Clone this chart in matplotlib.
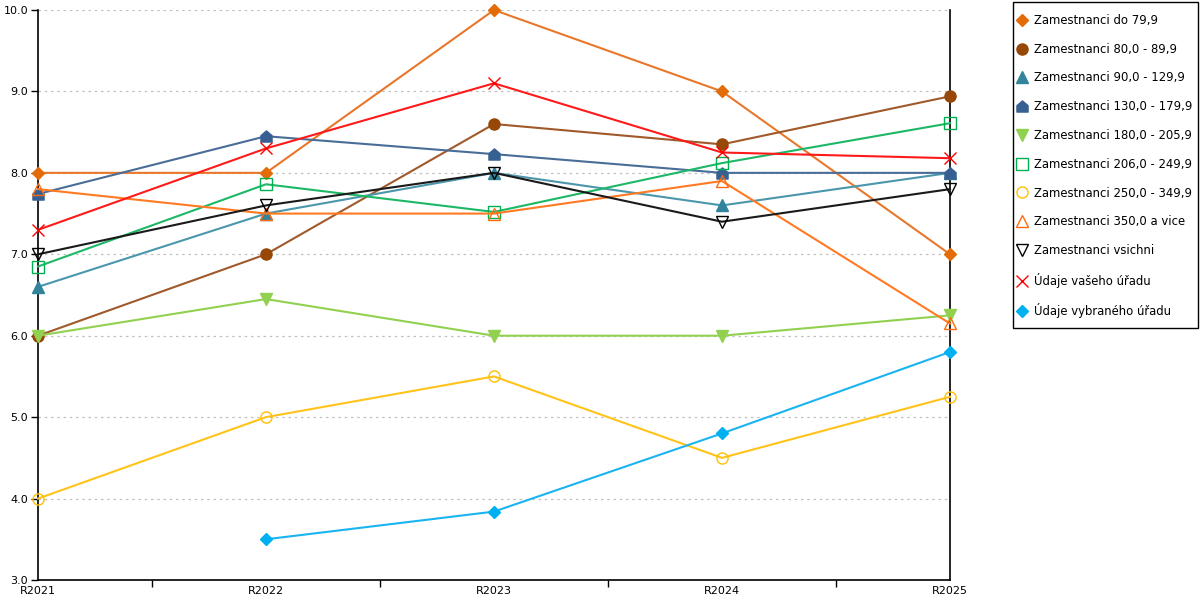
import matplotlib
matplotlib.use('Agg')
import matplotlib.pyplot as plt
from matplotlib.path import Path
from matplotlib.patches import Rectangle
import numpy as np

# data
years = ['R2021', 'R2022', 'R2023', 'R2024', 'R2025']
labels = ['Zamestnanci do 79,9', 'Zamestnanci 80,0 - 89,9', 'Zamestnanci 90,0 - 129,9',
          'Zamestnanci 130,0 - 179,9', 'Zamestnanci 180,0 - 205,9', 'Zamestnanci 206,0 - 249,9',
          'Zamestnanci 250,0 - 349,9', 'Zamestnanci 350,0 a vice', 'Zamestnanci vsichni',
          'Údaje vašeho úřadu', 'Údaje vybraného úřadu']
do_79 = [8.0, 8.0, 10.0, 9.0, 7.0]
z_80_89 = [6.0, 7.0, 8.6, 8.35, 8.94]
z_90_129 = [6.6, 7.5, 8.0, 7.6, 8.0]
z_130_179 = [7.74, 8.45, 8.23, 8.0, 8.0]
z_180_205 = [6.0, 6.45, 6.0, 6.0, 6.25]
z_206_249 = [6.85, 7.86, 7.52, 8.12, 8.61]
z_250_349 = [4.0, 5.0, 5.5, 4.5, 5.25]
z_350 = [7.8, 7.5, 7.5, 7.9, 6.15]
vsichni = [7.0, 7.6, 8.0, 7.4, 7.8]
vaseho = [7.3, 8.3, 9.1, 8.25, 8.18]
vybraneho = [np.nan, 3.5, 3.84, 4.8, 5.8]

series = [do_79, z_80_89, z_90_129, z_130_179, z_180_205, z_206_249,
          z_250_349, z_350, vsichni, vaseho, vybraneho]

house = Path([(-1, -1), (1, -1), (1, 0.15), (0, 1), (-1, 0.15), (-1, -1)],
             [Path.MOVETO, Path.LINETO, Path.LINETO, Path.LINETO, Path.LINETO, Path.CLOSEPOLY])

# (line colour, marker, marker face, marker edge, size)
styles = [
    ('#E8772A', 'D', '#E36C09', '#E36C09', 6),
    ('#A0592A', 'o', '#974706', '#974706', 8),
    ('#4A97AC', '^', '#31849B', '#31849B', 8),
    ('#4A6D98', house, '#376092', '#376092', 8),
    ('#92D050', 'v', '#92D050', '#92D050', 8),
    ('#1DB866', 's', 'none', '#00B050', 8),
    ('#FFC31A', 'o', 'none', '#FFC000', 8),
    ('#FF7A22', '^', 'none', '#FF6A10', 9),
    ('#1A1A1A', 'v', 'none', '#000000', 9),
    ('#FF1A1A', 'x', '#FF0000', '#FF0000', 9),
    ('#1AB4F0', 'D', '#00B0F0', '#00B0F0', 6),
]

plt.rcParams['font.family'] = ['DejaVu Sans']

W, H = 1200, 600
fig = plt.figure(figsize=(12, 6), dpi=100)
ax = fig.add_axes([38 / W, 20 / H, 912 / W, 570 / H])

x = np.arange(len(years))
for vals, lab, (lc, mk, mf, me, ms) in zip(series, labels, styles):
    ax.plot(x, vals, color=lc, lw=1.5, marker=mk, markerfacecolor=mf,
            markeredgecolor=me, markersize=ms, markeredgewidth=1.0,
            label=lab, clip_on=False, zorder=3)

ax.set_xlim(0, 4)
ax.set_ylim(3.0, 10.0)
ax.set_yticks(np.arange(3, 10.01, 1.0))
ax.set_yticklabels([f'{v:.1f}' for v in np.arange(3, 10.01, 1.0)], fontsize=8)
ax.set_xticks(x)
ax.set_xticklabels(years, fontsize=8)
ax.tick_params(axis='x', which='major', length=0, pad=4)
ax.set_xticks([0, 0.5, 1.5, 2.5, 3.5, 4], minor=True)
ax.tick_params(axis='x', which='minor', length=5, width=1, color='black')
ax.tick_params(axis='y', length=5, width=1, pad=2)
ax.yaxis.grid(True, color='#C0C0C0', linestyle=(0, (2, 3)), lw=0.9)
ax.set_axisbelow(True)
ax.spines['top'].set_visible(False)
for s in ['left', 'right', 'bottom']:
    ax.spines[s].set_linewidth(1.2)
    ax.spines[s].set_color('black')

# legend box drawn separately so its padding can match the reference
fig.patches.append(Rectangle((1013 / W, 1 - 328 / H), 185 / W, 326 / H,
                             transform=fig.transFigure, facecolor='white',
                             edgecolor='black', lw=1.0, zorder=0))
leg = fig.legend(loc='upper left', bbox_to_anchor=(1017 / W, 1 - 14 / H),
                 fontsize=8.4, frameon=False,
                 labelspacing=1.35, handlelength=0.9, handletextpad=0.56,
                 borderpad=0, borderaxespad=0)
for h in leg.get_lines():
    h.set_linestyle('none')

fig.savefig('out.png', dpi=100, facecolor='white')
plt.close(fig)
